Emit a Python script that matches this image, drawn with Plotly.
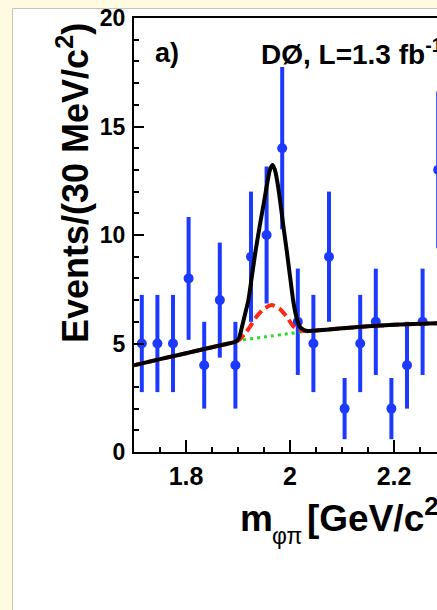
import plotly.graph_objects as go

# ---- data ----
bin_centers = [1.715, 1.745, 1.775, 1.805, 1.835, 1.865, 1.895, 1.925, 1.955, 1.985,
               2.015, 2.045, 2.075, 2.105, 2.135, 2.165, 2.195, 2.225, 2.255, 2.285]
events = [5, 5, 5, 8, 4, 7, 4, 9, 10, 14, 6, 5, 9, 2, 5, 6, 2, 4, 6, 13]
errors = [2.24, 2.24, 2.24, 2.83, 2.0, 2.65, 2.0, 3.0, 3.16, 3.74,
          2.45, 2.24, 3.0, 1.41, 2.24, 2.45, 1.41, 2.0, 2.45, 3.61]

fit_x = [1.700, 1.750, 1.800, 1.850, 1.880, 1.895, 1.902, 1.907, 1.913, 1.920, 1.927,
         1.934, 1.942, 1.9506, 1.957, 1.962, 1.9667, 1.971, 1.976, 1.9808, 1.987,
         1.9936, 2.000, 2.006, 2.012, 2.019, 2.027, 2.035, 2.050, 2.100, 2.150,
         2.200, 2.250, 2.283]
fit_total = [4.00, 4.28, 4.55, 4.83, 4.99, 5.08, 5.25, 5.70, 6.30, 7.00, 8.15,
             9.30, 10.45, 11.60, 12.50, 13.05, 13.23, 13.00, 12.40, 11.60, 10.45,
             9.30, 8.10, 7.00, 6.25, 5.77, 5.62, 5.58, 5.60, 5.70, 5.79,
             5.86, 5.91, 5.93]

red_x = [1.700, 1.750, 1.800, 1.850, 1.880, 1.895, 1.904, 1.913, 1.923, 1.935, 1.950,
         1.965, 1.980, 1.994, 2.006, 2.018, 2.033, 2.050, 2.100, 2.150, 2.200, 2.250, 2.283]
red_y = [4.00, 4.28, 4.55, 4.83, 4.99, 5.08, 5.20, 5.45, 5.77, 6.22, 6.60,
         6.77, 6.60, 6.23, 5.80, 5.60, 5.57, 5.60, 5.70, 5.79, 5.86, 5.91, 5.93]

bkg_x = [1.700, 1.750, 1.800, 1.850, 1.900, 1.950, 2.000, 2.025, 2.050, 2.100, 2.150, 2.200, 2.250, 2.283]
bkg_y = [4.00, 4.28, 4.55, 4.83, 5.12, 5.30, 5.46, 5.54, 5.60, 5.68, 5.78, 5.86, 5.91, 5.93]

BLUE = "rgb(28,58,255)"
FONT = "Liberation Sans, Arial, Helvetica, sans-serif"

fig = go.Figure()

fig.add_trace(go.Scatter(
    x=bin_centers, y=events, mode="markers",
    marker=dict(color=BLUE, size=10),
    error_y=dict(type="data", array=errors, visible=True, color=BLUE, thickness=4, width=0),
    showlegend=False,
))
fig.add_trace(go.Scatter(
    x=bkg_x, y=bkg_y, mode="lines",
    line=dict(color="rgb(40,220,40)", width=3, dash="3px,4px", shape="spline", smoothing=0.6),
    showlegend=False,
))
fig.add_trace(go.Scatter(
    x=red_x, y=red_y, mode="lines",
    line=dict(color="rgb(255,40,20)", width=4, dash="10px,5px", shape="spline", smoothing=0.6),
    showlegend=False,
))
fig.add_trace(go.Scatter(
    x=fit_x, y=fit_total, mode="lines",
    line=dict(color="black", width=4, shape="spline", smoothing=0.5),
    showlegend=False,
))

W, H = 437, 610
L, T, B = 134, 18, 158
pw, ph = W - L, H - T - B

def px(xp):
    return (xp - L) / pw

def py(yp):
    return (H - B - yp) / ph

fig.add_shape(type="rect", xref="paper", yref="paper",
              x0=px(12.5), x1=px(460), y0=py(8.5), y1=py(640),
              fillcolor="white", line=dict(color="rgb(195,195,185)", width=1), layer="below")

fig.add_annotation(text="<b>Events/(30 MeV/c<sup>2</sup>)</b>", textangle=-90,
                   xref="paper", yref="paper", x=px(73), y=py(183),
                   xanchor="center", yanchor="middle", showarrow=False,
                   font=dict(family=FONT, size=36, color="black"))
# x-axis title assembled from pieces: "m", subscript "φπ", "[GeV/c²]"
fig.add_annotation(text="<b>m</b>",
                   xref="paper", yref="paper", x=px(238), y=py(518),
                   xanchor="left", yanchor="middle", showarrow=False,
                   font=dict(family=FONT, size=37, color="black"))
fig.add_annotation(text="φπ",
                   xref="paper", yref="paper", x=px(270), y=py(536),
                   xanchor="left", yanchor="middle", showarrow=False,
                   font=dict(family=FONT, size=23, color="black"))
fig.add_annotation(text="<b>[GeV/c<sup>2</sup>]</b>",
                   xref="paper", yref="paper", x=px(305), y=py(515),
                   xanchor="left", yanchor="middle", showarrow=False,
                   font=dict(family=FONT, size=37, color="black"))
fig.add_annotation(text="<b>a)</b>", xref="paper", yref="paper", x=px(153), y=py(53),
                   xanchor="left", yanchor="middle", showarrow=False,
                   font=dict(family=FONT, size=27, color="black"))
fig.add_annotation(text="<b>DØ, L=1.3 fb<sup>-1</sup></b>", xref="paper", yref="paper",
                   x=px(259), y=py(52), xanchor="left", yanchor="middle", showarrow=False,
                   font=dict(family=FONT, size=28, color="black"))

fig.update_layout(
    width=W, height=H,
    margin=dict(l=L, r=0, t=T, b=B, pad=0),
    paper_bgcolor="rgb(255,251,225)",
    plot_bgcolor="white",
    showlegend=False,
    xaxis=dict(
        range=[1.7, 1.7 + pw / 520.0],
        tickmode="linear", tick0=1.8, dtick=0.2,
        ticks="inside", ticklen=12, tickwidth=2, tickcolor="black",
        minor=dict(tickmode="linear", tick0=1.7, dtick=0.05, ticks="inside",
                   ticklen=5, tickwidth=2, tickcolor="black", showgrid=False),
        showline=True, linewidth=2, linecolor="black", mirror=True,
        showgrid=False, zeroline=False,
        tickfont=dict(family=FONT, size=25, color="black", weight="bold"),
        ticklabelstandoff=1,
    ),
    yaxis=dict(
        range=[0, 20],
        tickmode="linear", tick0=0, dtick=5,
        ticks="inside", ticklen=10, tickwidth=2, tickcolor="black",
        minor=dict(tickmode="linear", tick0=0, dtick=1, ticks="inside",
                   ticklen=5, tickwidth=2, tickcolor="black", showgrid=False),
        showline=True, linewidth=2, linecolor="black",
        showgrid=False, zeroline=False,
        tickfont=dict(family=FONT, size=23, color="black", weight="bold"),
        ticklabelstandoff=2,
    ),
)

fig.write_html("out.html")
